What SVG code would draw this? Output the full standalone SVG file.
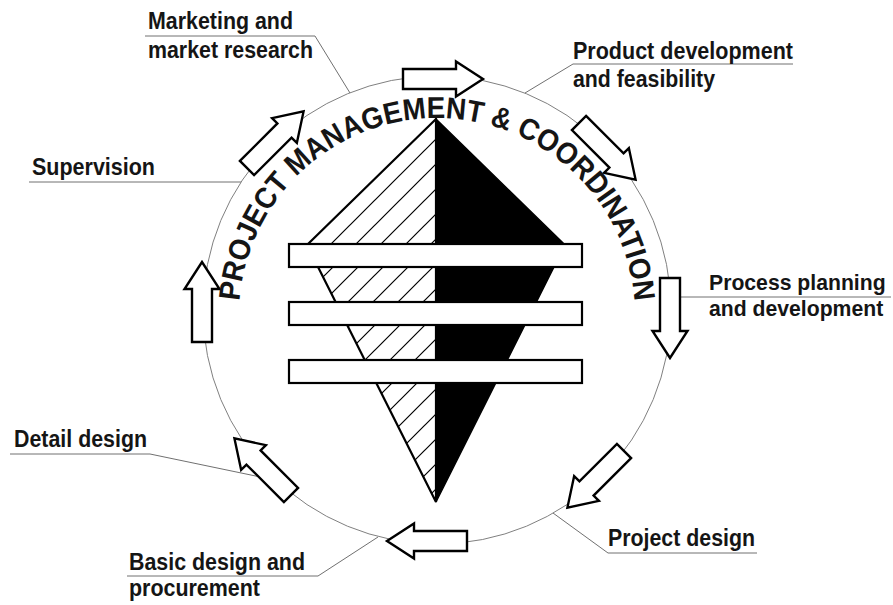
<svg xmlns="http://www.w3.org/2000/svg" xmlns:xlink="http://www.w3.org/1999/xlink" width="893" height="605" viewBox="0 0 893 605">
<style>
.lbl{font-family:"Liberation Sans",Arial,sans-serif;font-weight:bold;font-size:23px;fill:#151515}
.lbl.sm{font-size:21.2px}
.lead{fill:none;stroke:#707070;stroke-width:1}
.ring{fill:none;stroke:#808080;stroke-width:1}
.arr{fill:#fff;stroke:#000;stroke-width:2.4;stroke-linejoin:miter}
.bar{fill:#fff;stroke:#000;stroke-width:2.2}
.arc{font-family:"Liberation Sans",Arial,sans-serif;font-weight:bold;font-size:30px;fill:#151515}
</style>
<defs>
<pattern id="hatch" patternUnits="userSpaceOnUse" width="25" height="25">
<path d="M-5,5 L5,-5 M0,25 L25,0 M20,30 L30,20" stroke="#000" stroke-width="1.2"/>
</pattern>
<path id="arrow" d="M0,-10 H53 V-17.5 L80,0 L53,17.5 V10 H0 Z"/>
<path id="textarc" d="M239,316 A198,198 0 0 1 635,316"/>
</defs>
<rect width="893" height="605" fill="#fff"/>
<circle class="ring" cx="437" cy="310" r="234"/>

<g id="connectors">
<polyline class="lead" points="145,36 315,36 350,93"/>
<polyline class="lead" points="793,64 573,64 525,93"/>
<polyline class="lead" points="891,297 670,297"/>
<polyline class="lead" points="757,553 608,553 553,513"/>
<polyline class="lead" points="127,576 318,576 378,537"/>
<polyline class="lead" points="10,454 150,454 270,479"/>
<polyline class="lead" points="29,182 241,182"/>
</g>

<g id="core">
<polygon points="436,119 307,245 436,502" fill="url(#hatch)" stroke="#000" stroke-width="2.2" stroke-linejoin="miter"/>
<polygon points="436,119 565,245 436,502" fill="#000" stroke="#000" stroke-width="1.5"/>
<rect class="bar" x="289" y="244" width="293" height="23"/>
<rect class="bar" x="289" y="302" width="293" height="23"/>
<rect class="bar" x="289" y="360" width="293" height="23"/>
</g>

<g id="flow-arrows">
<use xlink:href="#arrow" class="arr" transform="translate(403,79)"/>
<use xlink:href="#arrow" class="arr" transform="translate(579,123) rotate(45)"/>
<use xlink:href="#arrow" class="arr" transform="translate(670,278) rotate(90)"/>
<use xlink:href="#arrow" class="arr" transform="translate(624,451) rotate(135)"/>
<use xlink:href="#arrow" class="arr" transform="translate(467,541) rotate(180)"/>
<use xlink:href="#arrow" class="arr" transform="translate(291,495) rotate(225)"/>
<use xlink:href="#arrow" class="arr" transform="translate(202,342) rotate(270)"/>
<use xlink:href="#arrow" class="arr" transform="translate(247,168) rotate(315)"/>
</g>

<g id="title">
<text class="arc" textLength="592" lengthAdjust="spacingAndGlyphs"><textPath xlink:href="#textarc" startOffset="15">PROJECT MANAGEMENT &amp; COORDINATION</textPath></text>
</g>

<g id="marketing">
<text class="lbl" x="148" y="29" textLength="145" lengthAdjust="spacingAndGlyphs">Marketing and</text>
<text class="lbl" x="148" y="58" textLength="165" lengthAdjust="spacingAndGlyphs">market research</text>
</g>
<g id="product">
<text class="lbl" x="573" y="59" textLength="220" lengthAdjust="spacingAndGlyphs">Product development</text>
<text class="lbl" x="573" y="87" textLength="142" lengthAdjust="spacingAndGlyphs">and feasibility</text>
</g>
<g id="process">
<text class="lbl sm" x="709" y="290">Process planning</text>
<text class="lbl sm" x="709" y="316">and development</text>
</g>
<g id="project-design">
<text class="lbl" x="608" y="546" textLength="147" lengthAdjust="spacingAndGlyphs">Project design</text>
</g>
<g id="basic-design">
<text class="lbl" x="129" y="570" textLength="176" lengthAdjust="spacingAndGlyphs">Basic design and</text>
<text class="lbl" x="129" y="596" textLength="131" lengthAdjust="spacingAndGlyphs">procurement</text>
</g>
<g id="detail-design">
<text class="lbl" x="14" y="447" textLength="133" lengthAdjust="spacingAndGlyphs">Detail design</text>
</g>
<g id="supervision">
<text class="lbl" x="32" y="175" textLength="123" lengthAdjust="spacingAndGlyphs">Supervision</text>
</g>
</svg>
